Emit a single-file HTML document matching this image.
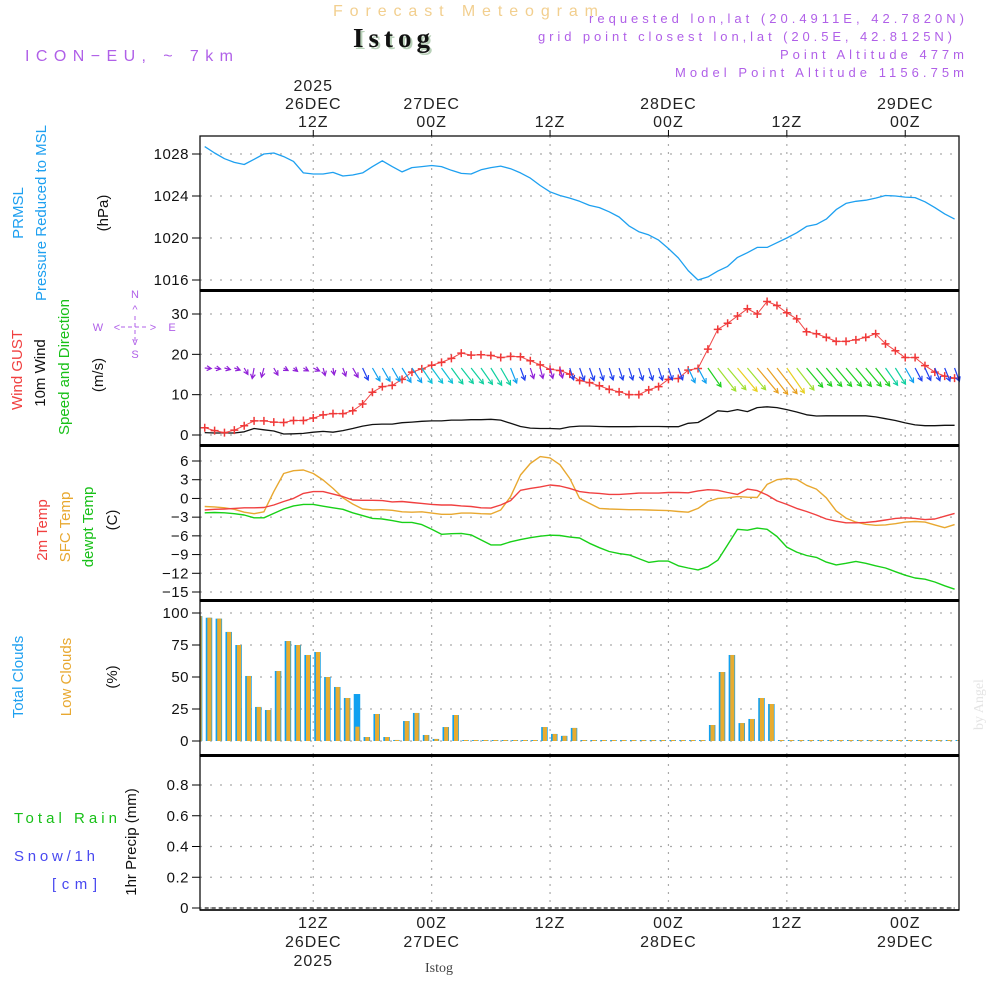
<!DOCTYPE html>
<html><head><meta charset="utf-8"><style>
html,body{margin:0;padding:0;background:#fff;}
svg{display:block;font-family:"Liberation Sans",sans-serif;}
</style></head><body>
<svg id="chart" width="1000" height="1000" viewBox="0 0 1000 1000" xmlns="http://www.w3.org/2000/svg">
<rect x="0" y="0" width="1000" height="1000" fill="#fff"/>
<text x="333" y="16" font-size="16" fill="#f2cf8f" textLength="265" lengthAdjust="spacing">Forecast Meteogram</text>
<text x="355" y="49" font-size="27" font-weight="bold" font-family="Liberation Serif, serif" fill="#b8d0b8" textLength="77" lengthAdjust="spacing">Istog</text>
<text x="353" y="47" font-size="27" font-weight="bold" font-family="Liberation Serif, serif" fill="#111" textLength="77" lengthAdjust="spacing">Istog</text>
<text x="25" y="61" font-size="16" fill="#b060e8" textLength="208" lengthAdjust="spacing">ICON−EU, ~ 7km</text>
<g font-size="13" fill="#b060e8" text-anchor="end">
<text x="964" y="23" textLength="375" lengthAdjust="spacing">requested lon,lat (20.4911E, 42.7820N)</text>
<text x="952" y="41" textLength="414" lengthAdjust="spacing">grid point closest lon,lat (20.5E, 42.8125N)</text>
<text x="964" y="59" textLength="184" lengthAdjust="spacing">Point Altitude 477m</text>
<text x="964" y="77" textLength="289" lengthAdjust="spacing">Model Point Altitude 1156.75m</text>
</g>
<text transform="translate(983,730) rotate(-90)" font-size="14" font-family="Liberation Serif, serif" fill="#e4e4e4">by Angel</text>
<text x="425" y="972" font-size="14" font-family="Liberation Serif, serif" fill="#444">Istog</text>
<g id="g"></g>
</svg>
<script>
// ---------- data (hourly, hours since 00Z 26DEC) ----------
const hours = [];
for (let i = 1; i <= 77; i++) hours.push(i);
const pressure = [1028.7,1028.1,1027.55,1027.2,1027.0,1027.5,1028.0,1028.1,1027.75,1027.3,1026.2,1026.1,1026.1,1026.25,1025.9,1026.0,1026.2,1026.8,1027.35,1026.8,1026.3,1026.7,1026.8,1026.9,1026.8,1026.45,1026.15,1026.1,1026.5,1026.7,1026.85,1026.6,1026.2,1025.7,1025.0,1024.4,1024.05,1023.8,1023.5,1023.1,1022.9,1022.5,1022.0,1021.15,1020.6,1020.3,1019.8,1019.0,1018.1,1016.9,1016.0,1016.3,1016.85,1017.3,1018.15,1018.6,1019.1,1019.1,1019.55,1020.0,1020.5,1021.1,1021.3,1021.8,1022.7,1023.3,1023.5,1023.6,1023.8,1024.05,1024.0,1023.9,1023.85,1023.45,1022.9,1022.3,1021.8];
const gust = [1.8,1.1,0.6,1.2,2.3,3.5,3.5,3.2,3.1,3.6,3.6,4.2,5.0,5.3,5.3,6.0,7.7,10.6,12.0,12.3,13.8,15.6,16.4,17.3,18.0,19.0,20.3,19.8,19.9,19.7,19.2,19.5,19.4,18.4,17.4,16.3,16.0,15.1,13.5,13.0,12.2,11.3,10.7,10.0,10.0,11.2,12.0,13.8,14.0,16.1,16.5,21.3,26.2,27.7,29.5,31.3,30.0,33.1,32.1,30.3,28.8,25.6,25.1,24.2,23.2,23.2,23.6,24.2,25.1,22.6,20.9,19.2,19.2,17.2,15.6,14.6,14.1];
const wind10 = [0.6,0.5,0.5,0.5,0.8,1.6,1.3,1.0,0.25,0.3,0.4,0.7,0.9,0.7,1.1,1.6,2.2,2.6,2.7,2.7,3.05,3.2,3.4,3.5,3.5,3.7,3.7,3.8,3.8,3.9,3.7,2.9,2.1,1.7,1.6,1.6,1.5,2.0,2.2,2.2,2.1,2.05,2.05,2.05,2.1,2.1,2.1,2.05,2.05,2.9,3.1,4.5,6.0,5.8,6.3,5.8,6.8,7.0,6.8,6.3,5.7,5.0,4.7,4.75,4.75,4.75,4.75,4.75,4.5,4.05,3.6,3.0,2.5,2.3,2.3,2.4,2.4];
const windDir = [275,280,285,290,330,10,15,330,300,310,300,295,345,350,340,330,335,330,330,330,328,326,326,324,324,324,322,322,325,328,330,338,340,342,345,345,345,342,340,340,342,342,342,342,342,342,342,342,340,335,332,325,322,320,320,320,320,322,322,325,322,320,320,320,320,320,320,320,322,325,328,330,332,335,338,338,340];
const temp2m = [-1.85,-1.75,-1.7,-1.6,-1.5,-1.5,-1.45,-1.05,-0.5,0.0,0.8,1.1,1.1,0.7,0.3,-0.25,-0.3,-0.3,-0.35,-0.55,-0.5,-0.65,-0.8,-0.95,-1.05,-1.05,-1.2,-1.3,-1.5,-1.55,-1.05,-0.35,1.3,1.6,1.85,2.15,2.0,1.6,1.1,0.9,0.8,0.65,0.65,0.75,0.85,0.85,0.85,0.95,0.95,0.9,1.2,1.4,1.3,0.95,0.65,1.5,1.25,0.55,-0.4,-0.95,-1.6,-2.1,-2.65,-3.3,-3.65,-3.9,-3.9,-3.85,-3.7,-3.45,-3.2,-3.1,-3.2,-3.4,-3.3,-2.85,-2.4];
const tempSfc = [-1.3,-1.35,-1.5,-1.75,-2.2,-2.45,-2.15,1.1,4.0,4.45,4.55,4.0,2.95,1.6,0.1,-0.9,-1.7,-1.85,-1.8,-1.9,-2.15,-2.2,-2.15,-2.35,-2.55,-2.55,-2.35,-2.35,-2.45,-2.5,-1.85,0.3,3.75,5.6,6.7,6.5,5.4,3.2,0.0,-0.8,-1.6,-1.7,-1.75,-1.8,-1.8,-1.85,-1.9,-1.95,-2.1,-2.2,-1.6,-0.5,0.0,0.1,0.3,0.2,0.15,2.25,3.0,3.2,3.05,2.1,1.5,0.1,-2.0,-3.15,-3.8,-4.15,-4.3,-4.25,-4.05,-3.8,-3.7,-3.8,-4.25,-4.7,-4.2];
const dewpt = [-2.3,-2.25,-2.3,-2.45,-2.65,-3.1,-3.1,-2.4,-1.7,-1.2,-0.95,-0.95,-1.25,-1.5,-1.75,-2.3,-2.75,-3.2,-3.3,-3.55,-3.85,-3.85,-4.2,-4.95,-5.75,-5.65,-5.6,-5.85,-6.65,-7.45,-7.45,-6.95,-6.6,-6.3,-6.05,-5.9,-5.95,-6.2,-6.35,-7.2,-7.9,-8.5,-8.85,-9.05,-9.65,-10.25,-10.05,-10.05,-10.8,-11.15,-11.45,-10.95,-9.9,-7.45,-4.95,-5.1,-4.75,-4.95,-6.1,-7.8,-8.6,-9.15,-9.45,-10.2,-10.65,-10.4,-10.1,-10.4,-10.8,-11.15,-11.75,-12.3,-12.75,-12.95,-13.4,-14.0,-14.55];
const cloudHours = [];
for (let i = 0; i <= 77; i++) cloudHours.push(i);
const totalClouds = [97.6,96.3,95.6,85.2,75,50.8,26.6,24.2,54.7,78.1,75,67.2,69.5,50,42.2,33.6,36.7,3.1,21.1,3.1,0.8,15.6,21.9,4.7,1.6,10.9,20.3,0,0,0,0,0,0,0,0,10.9,5.5,4,10.2,0,0,0,0,0,0,0,0,0,0,0,0,0,12.5,53.9,67.2,14,17.2,33.6,28.9,0,0,0,0,0,0,0,0,0,0,0,0,0,0,0,0,0,0,0];
const lowClouds = [97.6,96.3,95.6,85.2,75,50.8,26.6,24.2,54.7,78.1,75,67.2,69.5,50,42.2,33.6,11.2,3.1,21.1,3.1,0.8,15.6,21.9,4.7,1.6,10.9,20.3,0,0,0,0,0,0,0,0,10.9,5.5,4,10.2,0,0,0,0,0,0,0,0,0,0,0,0,0,12.5,53.9,67.2,14,17.2,33.6,28.9,0,0,0,0,0,0,0,0,0,0,0,0,0,0,0,0,0,0,0];
const precip = hours.map(() => 0);
const pressureTicks = [1016,1020,1024,1028];
const windTicks = [0,10,20,30];
const tempTicks = [-15,-12,-9,-6,-3,0,3,6];
const cloudTicks = [0,25,50,75,100];
const precipTicks = [0,0.2,0.4,0.6,0.8];
const timeTickHours = [12,24,36,48,60,72];
const topLabels = [["2025","26DEC","12Z"],["27DEC","00Z"],["12Z"],["28DEC","00Z"],["12Z"],["29DEC","00Z"]];
const bottomLabels = [["12Z","26DEC","2025"],["00Z","27DEC"],["12Z"],["00Z","28DEC"],["12Z"],["00Z","29DEC"]];

// ---------- layout ----------
const NS = "http://www.w3.org/2000/svg";
const G = document.getElementById('g');
const X0 = 200, X1 = 959, H0 = 0.52, H1 = 77.45;
function xs(h){ return X0 + (h - H0) * (X1 - X0) / (H1 - H0); }
function lin(d0,d1,r0,r1){ return v => r0 + (v - d0) * (r1 - r0) / (d1 - d0); }
const panels = [
  {name:'pressure', top:136, bot:290, y:lin(1016,1028,280,154), ticks:pressureTicks},
  {name:'wind', top:291, bot:445, y:lin(0,30,435,314), ticks:windTicks},
  {name:'temperature', top:446, bot:600, y:lin(-15,6,592,461), ticks:tempTicks},
  {name:'clouds', top:601, bot:755, y:lin(0,100,741,613), ticks:cloudTicks},
  {name:'precip', top:756, bot:910, y:lin(0,0.8,908,785), ticks:precipTicks}
];
function el(tag, attrs, parent){
  const e = document.createElementNS(NS, tag);
  for (const k in attrs) e.setAttribute(k, attrs[k]);
  (parent || G).appendChild(e);
  return e;
}
function txt(s, attrs, parent){ const t = el('text', attrs, parent); t.textContent = s; return t; }

panels.forEach(p => {
  const pg = el('g', {});
  
  
  p.g = pg;
  p.ticks.forEach(v => {
    const y = p.y(v);
    const gl = el('line', {x1:X0, x2:X1, y1:y, y2:y, stroke:'#aaa', 'stroke-width':1.2, 'stroke-dasharray':'2 8'}, pg);
    
    
    const tk = el('line', {x1:X0-8, x2:X0, y1:y, y2:y, stroke:'#000', 'stroke-width':1}, pg);
    
    
    const lbl = txt(String(v).replace('-', '−'), {x:X0-11, y:y+5, 'font-size':15, 'text-anchor':'end', fill:'#111', 'letter-spacing':'0.5'}, pg);
    
    
  });
  timeTickHours.forEach(h => {
    const x = xs(h);
    const vl = el('line', {x1:x, x2:x, y1:p.top, y2:p.bot, stroke:'#aaa', 'stroke-width':1.2, 'stroke-dasharray':'2 6'}, pg);
    
    
  });
});

function polyline(p, xsArr, vals, color, w, name){
  const pts = vals.map((v,i) => xs(xsArr[i]).toFixed(1) + ',' + p.y(v).toFixed(1)).join(' ');
  const l = el('polyline', {points:pts, fill:'none', stroke:color, 'stroke-width':w, 'stroke-linejoin':'round'}, p.g);
  
  
  return l;
}

polyline(panels[0], hours, pressure, '#1ea0f0', 1.3, 'pressure-line');

const pw = panels[1];
polyline(pw, hours, wind10, '#111', 1.3, 'wind-10m-line');
polyline(pw, hours, gust, '#f04848', 1, 'wind-gust-line');
gust.forEach((v,i) => {
  const x = xs(hours[i]), y = pw.y(v);
  const m = el('path', {d:`M${x-4},${y}H${x+4}M${x},${y-4}V${y+4}`, stroke:'#f03838', 'stroke-width':1.5}, pw.g);
  
  
});
function windColor(s){
  if (s < 1.8) return '#9020d8';
  if (s < 2.6) return '#2040f0';
  if (s < 3.3) return '#10a0f0';
  if (s < 3.6) return '#10c0d8';
  if (s < 4.2) return '#10d0a0';
  if (s < 5.5) return '#20d020';
  if (s < 6.1) return '#a0e030';
  if (s < 6.6) return '#e8d020';
  return '#e8a020';
}
const arrowY = 368;
wind10.forEach((s,i) => {
  const x = xs(hours[i]);
  const d = windDir[i] * Math.PI / 180;
  const L = 4 + 4.2 * s;
  const ux = -Math.sin(d), uy = Math.cos(d);
  const ex = x + ux * L, ey = arrowY + uy * L;
  const a = Math.atan2(uy, ux);
  const hl = 5;
  const h1x = ex - hl*Math.cos(a-0.5), h1y = ey - hl*Math.sin(a-0.5);
  const h2x = ex - hl*Math.cos(a+0.5), h2y = ey - hl*Math.sin(a+0.5);
  const c = windColor(s);
  const ar = el('path', {d:`M${x},${arrowY}L${ex},${ey}M${h1x},${h1y}L${ex},${ey}L${h2x},${h2y}`, stroke:c, 'stroke-width':1.2, fill:'none'}, pw.g);
  
  
});

const pt = panels[2];
polyline(pt, hours, tempSfc, '#e8a830', 1.4, 'sfc-temp-line');
polyline(pt, hours, temp2m, '#f04040', 1.4, '2m-temp-line');
polyline(pt, hours, dewpt, '#18d018', 1.4, 'dewpoint-line');

const pc = panels[3];
const clip = el('clipPath', {id:'plotclip'});
el('rect', {x:X0, y:0, width:X1-X0, height:1000}, clip);
const cg = el('g', {'clip-path':'url(#plotclip)'}, pc.g);
cloudHours.forEach((h,i) => {
  const x = xs(h) + 1;
  const base = pc.y(0);
  const tv = Math.max(pc.y(0) - pc.y(totalClouds[i]), 1);
  const lv = Math.max(pc.y(0) - pc.y(lowClouds[i]), 1);
  const b = el('rect', {x:x, y:base - tv, width:6.5, height:tv, fill:'#10a0f0'}, cg);
  
  
  const o = el('rect', {x:x+1.6, y:base - lv, width:4.2, height:lv, fill:'#e8ac30'}, cg);
  
  
});

const pp = panels[4];
polyline(pp, hours, precip, '#222', 1.2, 'precip-line').setAttribute('stroke-dasharray', '4 3');

panels.forEach((p,i) => {
  const r = el('rect', {x:X0, y:p.top, width:X1-X0, height:p.bot-p.top, fill:'none', stroke:'#111', 'stroke-width':1.3});
  
  
});
[290.5, 445.5, 600.5, 755.5].forEach(y => {
  const l = el('line', {x1:X0, x2:X1, y1:y, y2:y, stroke:'#000', 'stroke-width':3});
  
  
});
el('line', {x1:X0, x2:X1, y1:910, y2:910, stroke:'#000', 'stroke-width':1.5});

timeTickHours.forEach((h,i) => {
  const x = xs(h);
  const t = el('line', {x1:x, x2:x, y1:130, y2:136, stroke:'#000', 'stroke-width':1});
  
  
  const tl = topLabels[i];
  tl.forEach((s,j) => {
    const y = 127 - (tl.length - 1 - j) * 18;
    const e = txt(s, {x:x, y:y, 'font-size':16, 'text-anchor':'middle', fill:'#222', 'letter-spacing':'1'});
    
    
  });
  bottomLabels[i].forEach((s,j) => {
    const e = txt(s, {x:x, y:928 + j*19, 'font-size':16, 'text-anchor':'middle', fill:'#222', 'letter-spacing':'1'});
    
    
  });
});

function vlabel(s, x, cy, color, name, size){
  const e = txt(s, {transform:`translate(${x},${cy}) rotate(-90)`, 'font-size':size||15, 'text-anchor':'middle', fill:color});
  
  
}
vlabel('PRMSL', 23, 213, '#1ea0f0', 'prmsl-title');
vlabel('Pressure  Reduced to MSL', 46, 213, '#1ea0f0', 'pressure-title');
vlabel('(hPa)', 108, 213, '#111', 'pressure-unit');
vlabel('Wind GUST', 22, 370, '#f04040', 'gust-title');
vlabel('10m Wind', 45, 373, '#111', 'wind10-title');
vlabel('Speed and Direction', 69, 367, '#18c018', 'wind-direction-title');
vlabel('(m/s)', 103, 375, '#111', 'wind-unit');
vlabel('2m Temp', 47, 530, '#f04040', '2m-temp-title');
vlabel('SFC Temp', 70, 527, '#e8a830', 'sfc-temp-title');
vlabel('dewpt Temp', 93, 527, '#18c018', 'dewpoint-title');
vlabel('(C)', 117, 520, '#111', 'temp-unit');
vlabel('Total Clouds', 23, 677, '#1ea0f0', 'total-clouds-title');
vlabel('Low Clouds', 71, 677, '#e8a830', 'low-clouds-title');
vlabel('(%)', 117, 677, '#111', 'cloud-unit');
vlabel('1hr Precip (mm)', 136, 842, '#111', 'precip-title');
[['Total   Rain',14,823,'#18c018','rain-title',103],['Snow/1h',14,861,'#4848f0','snow-title',81],['[cm]',52,889,'#4848f0','snow-unit',45]].forEach(a => {
  const e = txt(a[0], {x:a[1], y:a[2], 'font-size':15, fill:a[3], textLength:a[5], lengthAdjust:'spacing', 'xml:space':'preserve'});
  
  
});
const cp = el('g', {fill:'#b060e8', 'font-size':11, 'text-anchor':'middle'});


[['N',135,298],['S',135,358],['W',98,331],['E',172,331],['<',117,331],['>',153,331],['^',135,313],['v',135,345]].forEach(a => txt(a[0], {x:a[1], y:a[2]}, cp));
el('path', {d:'M121,327H149M135,316V343', stroke:'#b060e8', 'stroke-width':1, 'stroke-dasharray':'4 3'}, cp);
</script>
</body></html>
